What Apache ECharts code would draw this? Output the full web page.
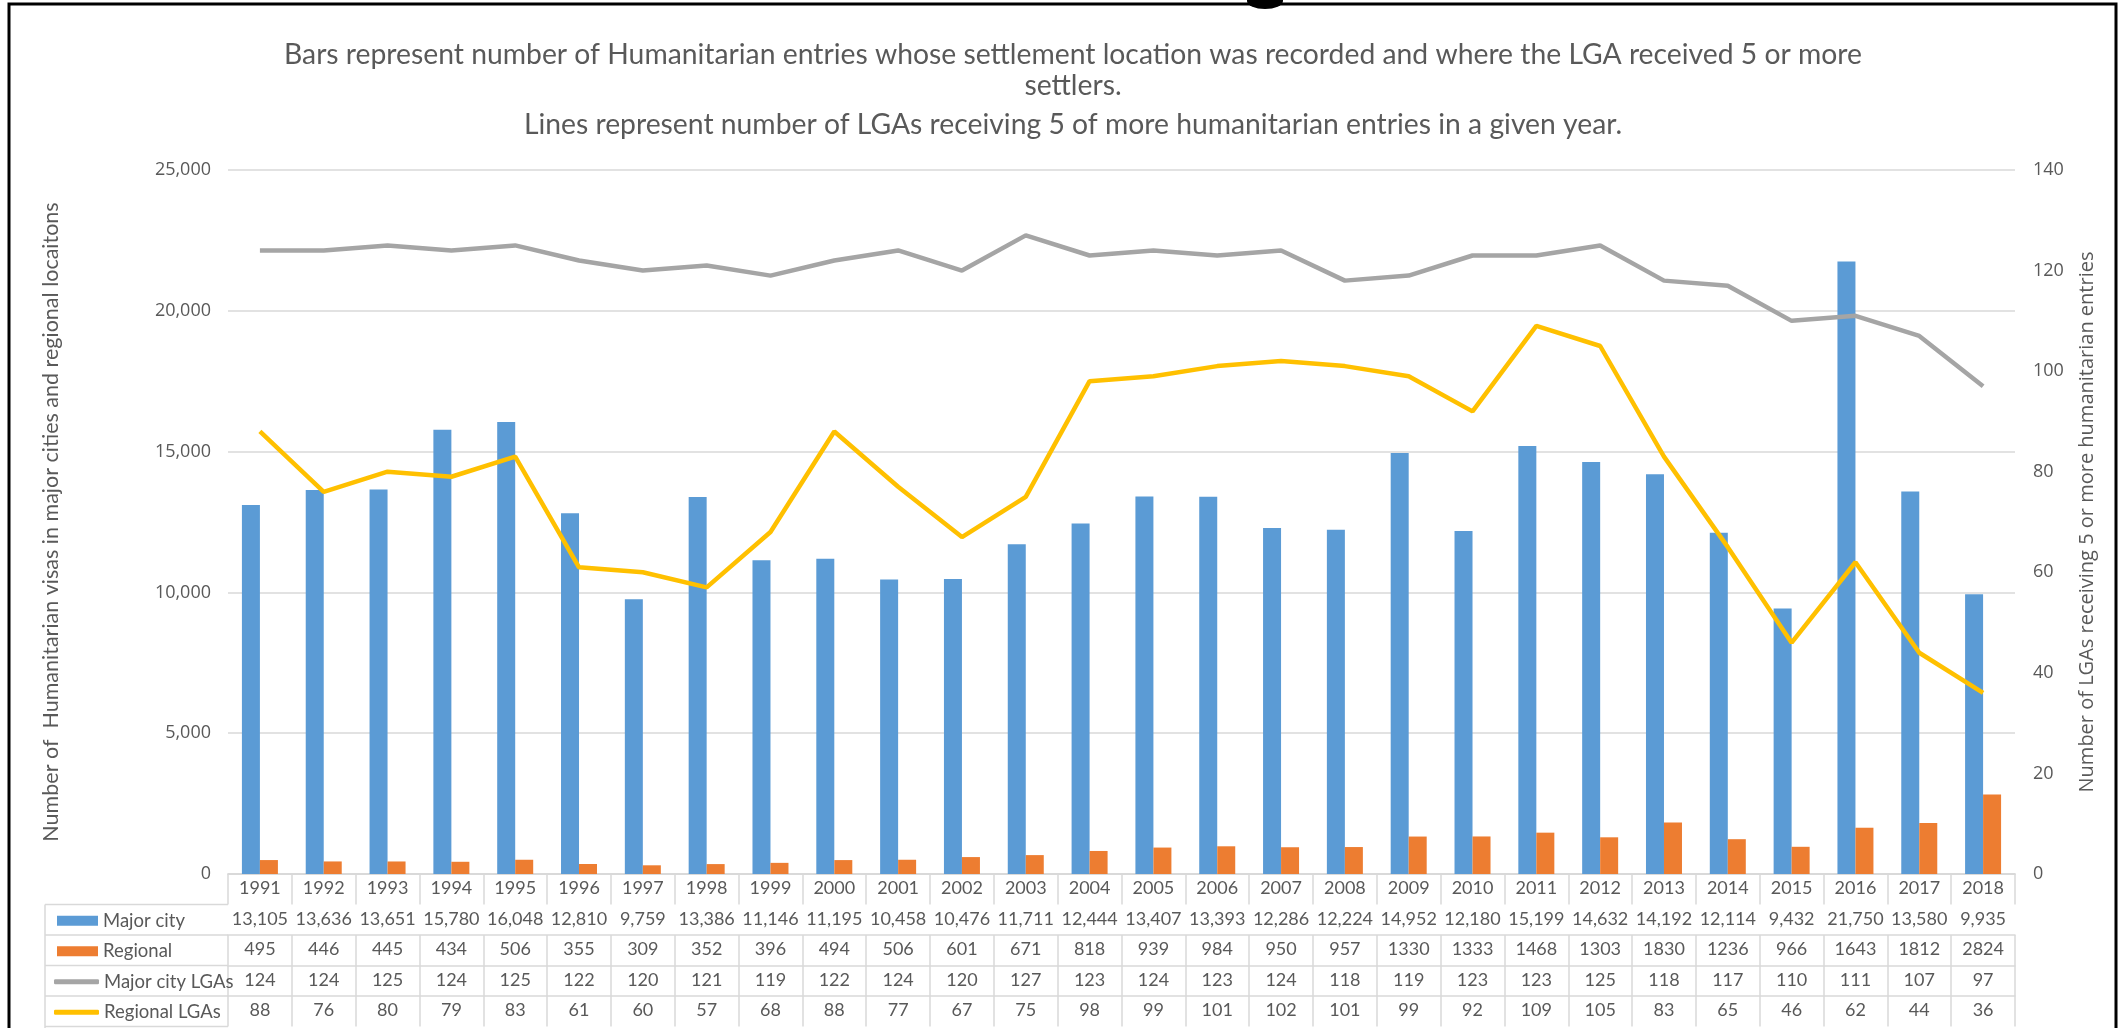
<!DOCTYPE html>
<html>
<head>
<meta charset="utf-8">
<title>Humanitarian entries by settlement location</title>
<script src="https://cdn.jsdelivr.net/npm/echarts@6/dist/echarts.min.js"></script>
<style>
  html, body { margin: 0; padding: 0; background: #fff; }
  #chart { width: 2126px; height: 1028px; }
</style>
</head>
<body>
<div id="chart"></div>
<script>
// Settlement years
const years = ['1991','1992','1993','1994','1995','1996','1997','1998','1999','2000','2001','2002','2003','2004',
  '2005','2006','2007','2008','2009','2010','2011','2012','2013','2014','2015','2016','2017','2018'];

// Humanitarian entries (bars, left axis)
const majorCity = [13105,13636,13651,15780,16048,12810,9759,13386,11146,11195,10458,10476,11711,12444,
  13407,13393,12286,12224,14952,12180,15199,14632,14192,12114,9432,21750,13580,9935];
const regional = [495,446,445,434,506,355,309,352,396,494,506,601,671,818,
  939,984,950,957,1330,1333,1468,1303,1830,1236,966,1643,1812,2824];

// Number of LGAs receiving 5 or more entries (lines, right axis)
const majorCityLGAs = [124,124,125,124,125,122,120,121,119,122,124,120,127,123,
  124,123,124,118,119,123,123,125,118,117,110,111,107,97];
const regionalLGAs = [88,76,80,79,83,61,60,57,68,88,77,67,75,98,
  99,101,102,101,99,92,109,105,83,65,46,62,44,36];

const seriesNames = ['Major city', 'Regional', 'Major city LGAs', 'Regional LGAs'];
const colors = ['#5B9BD5', '#ED7D31', '#A5A5A5', '#FFC000'];

const titleLines = [
  'Bars represent number of Humanitarian entries whose settlement location was recorded and where the LGA received 5 or more',
  'settlers.',
  'Lines represent number of LGAs receiving 5 of more humanitarian entries in a given year.'
];
const leftAxisName = 'Number of  Humanitarian visas in major cities and regional locaitons';
const rightAxisName = 'Number of LGAs receiving 5 or more humanitarian entries';

const NARROW = "Lato, 'Noto Sans', sans-serif";
const WIDE = "'Open Sans', 'Noto Sans', sans-serif";
const TEXT = '#595959';
const RULE = '#D9D9D9';

// Plot frame and data-table geometry
const G = { left: 228, right: 2015, top: 170, bottom: 874 };
const ROW = 30.5;
const KEY_LEFT = 45;

const fmt = v => v.toLocaleString('en-US');
const tableRows = [
  majorCity.map(fmt),
  regional.map(String),
  majorCityLGAs.map(String),
  regionalLGAs.map(String)
];

// Category axes stacked under the plot form the data table
function tableAxis(i, formatter) {
  return {
    type: 'category',
    data: years,
    position: 'bottom',
    offset: ROW * i,
    gridIndex: 0,
    axisLine: { show: true, lineStyle: { color: RULE, width: 1.5 } },
    axisTick: { show: true, interval: 0, length: ROW, lineStyle: { color: RULE, width: 1.5 } },
    axisLabel: {
      interval: 0, margin: 5, color: TEXT, fontFamily: NARROW, fontSize: 18, lineHeight: 19,
      formatter: formatter
    },
    splitLine: { show: false }
  };
}

const xAxes = [tableAxis(0, v => v)];
tableRows.forEach((row, i) => {
  xAxes.push(tableAxis(i + 1, (v, idx) => row[idx]));
});

// Horizontal and vertical rules of the key column on the left of the table
const keyRules = [];
for (let i = 1; i <= 5; i++) {
  keyRules.push({
    type: 'line', silent: true,
    shape: { x1: KEY_LEFT, y1: G.bottom + ROW * i, x2: G.left, y2: G.bottom + ROW * i },
    style: { stroke: RULE, lineWidth: 1.5 }
  });
}
keyRules.push({
  type: 'line', silent: true,
  shape: { x1: KEY_LEFT, y1: G.bottom + ROW, x2: KEY_LEFT, y2: 1028 },
  style: { stroke: RULE, lineWidth: 1.5 }
});

// One legend per table row so each key sits in its own cell
const keyIsLine = [false, false, true, true];
const legends = seriesNames.map((name, i) => {
  const cy = G.bottom + ROW * (i + 1) + ROW / 2;
  return {
    orient: 'vertical',
    left: keyIsLine[i] ? 49 : 52,
    top: cy - 14,
    itemWidth: keyIsLine[i] ? 45 : 41,
    itemHeight: keyIsLine[i] ? 5 : 10,
    itemGap: 0,
    selectedMode: false,
    textStyle: { color: TEXT, fontFamily: NARROW, fontSize: 18.5, lineHeight: 20 },
    data: [{ name: name, icon: keyIsLine[i] ? 'roundRect' : 'rect' }]
  };
});

const option = {
  animation: false,
  backgroundColor: '#fff',
  color: colors,
  title: {
    text: titleLines[0] + '\n' + titleLines[1],
    subtext: titleLines[2],
    left: 1068,
    textAlign: 'center',
    top: 34,
    itemGap: 8,
    textStyle: { color: TEXT, fontFamily: NARROW, fontSize: 28.3, fontWeight: 'normal', lineHeight: 31 },
    subtextStyle: { color: TEXT, fontFamily: NARROW, fontSize: 28.3, lineHeight: 31 }
  },
  legend: legends,
  grid: { left: G.left, right: 2126 - G.right, top: G.top, bottom: 1028 - G.bottom },
  xAxis: xAxes,
  yAxis: [
    {
      type: 'value', min: 0, max: 25000, interval: 5000, position: 'left',
      name: leftAxisName, nameLocation: 'middle', nameRotate: 90, nameGap: 166,
      nameTextStyle: { color: TEXT, fontFamily: NARROW, fontSize: 21.5 },
      axisLine: { show: false }, axisTick: { show: false },
      axisLabel: { color: TEXT, fontFamily: WIDE, fontSize: 18, margin: 17, formatter: v => fmt(v) },
      splitLine: { lineStyle: { color: RULE, width: 1.5 } }
    },
    {
      type: 'value', min: 0, max: 140, interval: 20, position: 'right',
      name: rightAxisName, nameLocation: 'middle', nameRotate: 90, nameGap: 62,
      nameTextStyle: { color: TEXT, fontFamily: WIDE, fontSize: 20 },
      axisLine: { show: false }, axisTick: { show: false },
      axisLabel: { color: TEXT, fontFamily: WIDE, fontSize: 18, margin: 18 },
      splitLine: { show: false }
    }
  ],
  series: [
    { name: seriesNames[0], type: 'bar', xAxisIndex: 0, yAxisIndex: 0, data: majorCity, barWidth: 18, barGap: '0%', itemStyle: { color: colors[0] } },
    { name: seriesNames[1], type: 'bar', xAxisIndex: 0, yAxisIndex: 0, data: regional, barWidth: 18, barGap: '0%', itemStyle: { color: colors[1] } },
    { name: seriesNames[2], type: 'line', xAxisIndex: 0, yAxisIndex: 1, data: majorCityLGAs, symbol: 'none', lineStyle: { color: colors[2], width: 4.5 }, itemStyle: { color: colors[2] } },
    { name: seriesNames[3], type: 'line', xAxisIndex: 0, yAxisIndex: 1, data: regionalLGAs, symbol: 'none', lineStyle: { color: colors[3], width: 4.5 }, itemStyle: { color: colors[3] } }
  ],
  graphic: [
    ...keyRules,
    // outer frame of the chart sheet
    { type: 'polyline', silent: true, shape: { points: [[9, 1028], [9, 4], [2116, 4], [2116, 1028]] }, style: { stroke: '#000', fill: null, lineWidth: 3 } },
    { type: 'circle', silent: true, x: 1265, y: 1, scaleY: 0.45, shape: { cx: 0, cy: 0, r: 18 }, style: { fill: '#000' } }
  ]
};

const chart = echarts.init(document.getElementById('chart'), null, { renderer: 'canvas' });
chart.setOption(option);
</script>
</body>
</html>
